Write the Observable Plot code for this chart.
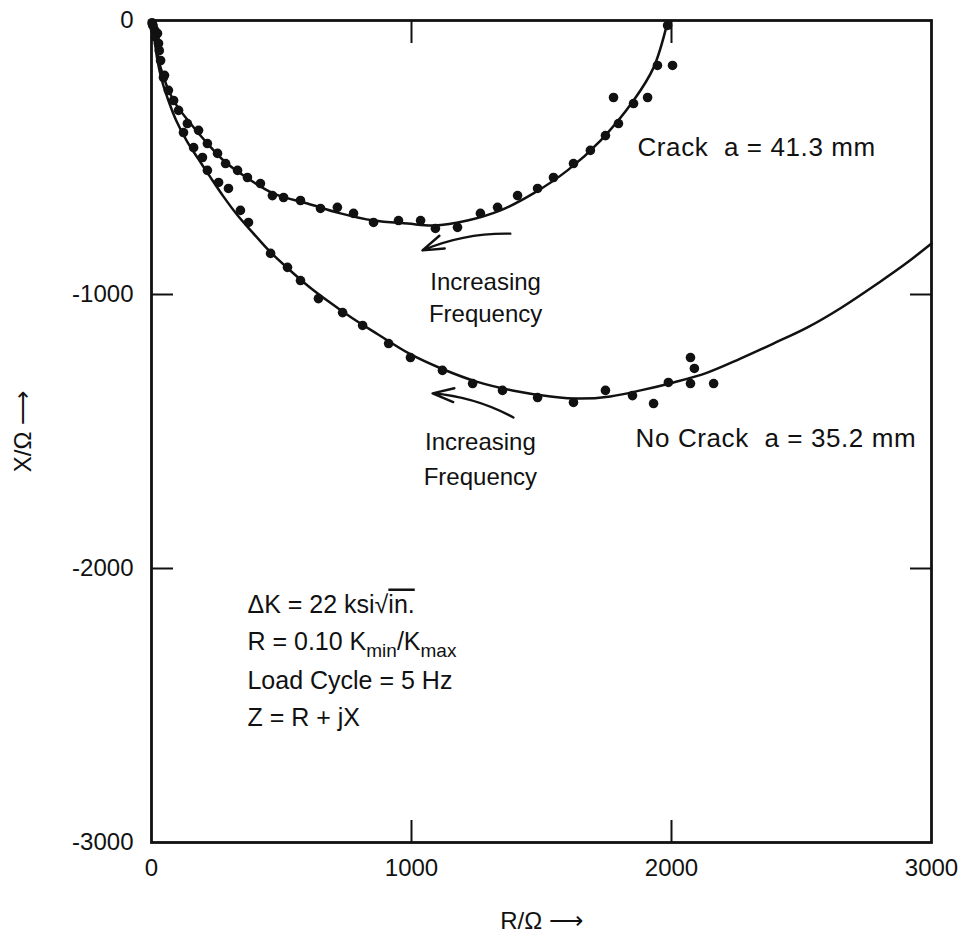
<!DOCTYPE html>
<html>
<head>
<meta charset="utf-8">
<script src="https://cdn.jsdelivr.net/npm/d3@7"></script>
<script src="https://cdn.jsdelivr.net/npm/@observablehq/plot@0.6"></script>
<style>
  html, body { margin: 0; padding: 0; background: #fff; }
  #chart svg { display: block; }
</style>
</head>
<body>
<div id="chart"></div>
<script>
// ---- Data (R in ohm, X in ohm) ----
const crackCurve = [
  [0, 0], [7, -26], [35, -172], [85, -292], [150, -376], [215, -449], [277, -511],
  [342, -558], [469, -631], [600, -668], [727, -704], [854, -730], [985, -741],
  [1085, -748], [1215, -730], [1342, -693], [1469, -631], [1600, -547],
  [1727, -438], [1854, -292], [1931, -172], [1985, -5]
];
const noCrackCurve = [
  [0, 0], [12, -73], [23, -146], [40, -219], [65, -292], [95, -365], [135, -438],
  [180, -505], [225, -570], [275, -640], [330, -710], [390, -775], [455, -843],
  [525, -905], [600, -967], [680, -1025], [770, -1085], [870, -1145],
  [990, -1215], [1119, -1272], [1250, -1318], [1388, -1350], [1535, -1372],
  [1650, -1380], [1765, -1372], [1881, -1350], [2008, -1321], [2138, -1285],
  [2265, -1234], [2392, -1179], [2523, -1120], [2650, -1050], [2800, -955],
  [2900, -888], [3000, -814]
];
const crackDots = [
  [2, -8], [6, -20], [12, -35], [23, -47], [27, -84], [35, -146], [46, -208], [65, -255],
  [85, -292], [104, -328], [138, -376], [181, -401], [215, -449], [254, -485],
  [285, -522], [331, -547], [369, -573], [419, -595], [465, -639], [508, -646],
  [573, -657], [650, -686], [715, -682], [777, -704], [854, -737], [950, -730],
  [1035, -730], [1092, -759], [1177, -755], [1265, -704], [1331, -682],
  [1408, -639], [1485, -613], [1546, -573], [1623, -522], [1688, -474],
  [1746, -420], [1796, -376], [1777, -281], [1854, -303], [1908, -281],
  [1946, -164], [2004, -164], [1985, -18]
];
const noCrackDots = [
  [4, -15], [15, -60], [30, -110], [50, -200], [123, -409], [162, -464], [196, -500], [215, -547],
  [258, -591], [296, -613], [342, -693], [373, -737], [458, -850], [523, -901],
  [573, -949], [642, -1015], [735, -1066], [812, -1113], [912, -1179],
  [996, -1230], [1119, -1277], [1235, -1325], [1350, -1350], [1485, -1376],
  [1623, -1394], [1746, -1350], [1850, -1369], [1931, -1398], [1988, -1321],
  [2073, -1230], [2088, -1270], [2073, -1325], [2162, -1325]
];
const xTicks = [0, 1000, 2000, 3000];
const yTicks = [0, -1000, -2000, -3000];
const innerXTicks = [1000, 2000];
const innerYTicks = [-1000, -2000];

// Annotations (data coordinates)
const curveLabels = [
  {R: 1869, X: -464, text: "Crack  a = 41.3 mm"},
  {R: 1862, X: -1526, text: "No Crack  a = 35.2 mm"}
];
const arrowLabels = [
  {R: 1285, X: -956, text: "Increasing"},
  {R: 1285, X: -1073, text: "Frequency"},
  {R: 1265, X: -1540, text: "Increasing"},
  {R: 1265, X: -1668, text: "Frequency"}
];
const freqArrows = [
  {R1: 1380, X1: -778, R2: 1042, X2: -839},
  {R1: 1392, X1: -1449, R2: 1081, X2: -1361}
];
const conditions = [
  {R: 369, X: -2135, text: "ΔK = 22 ksi√in."},
  {R: 369, X: -2270, text: "R = 0.10 Kmin/Kmax"},
  {R: 369, X: -2409, text: "Load Cycle = 5 Hz"},
  {R: 369, X: -2544, text: "Z = R + jX"}
];

const FONT = "'Liberation Sans', Arial, Helvetica, sans-serif";

const chart = Plot.plot({
  width: 972,
  height: 934,
  marginTop: 20,
  marginBottom: 92,
  marginLeft: 151,
  marginRight: 41,
  style: {fontFamily: FONT, fontSize: "24px", color: "#111", background: "#fff"},
  x: {domain: [0, 3000]},
  y: {domain: [-3000, 0]},
  marks: [
    Plot.frame({stroke: "#111", strokeWidth: 2.8}),
    // tick labels
    Plot.axisX(xTicks, {anchor: "bottom", tickSize: 0, tickPadding: 16, tickFormat: d => String(d),
      fontSize: 24, label: "R/Ω ⟶", labelAnchor: "center", labelOffset: 86, labelArrow: "none"}),
    Plot.axisY(yTicks, {anchor: "left", tickSize: 0, tickPadding: 18, tickFormat: d => String(d),
      fontSize: 24, label: "X/Ω ⟶", labelAnchor: "center", labelOffset: 138, labelArrow: "none"}),
    // inward tick marks on all four sides
    Plot.axisX(innerXTicks, {anchor: "bottom", tickSize: -22, strokeWidth: 2, tickFormat: () => "", label: null}),
    Plot.axisX(innerXTicks, {anchor: "top", tickSize: -22, strokeWidth: 2, tickFormat: () => "", label: null}),
    Plot.axisY(innerYTicks, {anchor: "left", tickSize: -22, strokeWidth: 2, tickFormat: () => "", label: null}),
    Plot.axisY(innerYTicks, {anchor: "right", tickSize: -22, strokeWidth: 2, tickFormat: () => "", label: null}),
    // fitted curves
    Plot.line(crackCurve, {x: d => d[0], y: d => d[1], stroke: "#111", strokeWidth: 2.5, curve: "catmull-rom"}),
    Plot.line(noCrackCurve, {x: d => d[0], y: d => d[1], stroke: "#111", strokeWidth: 2.5, curve: "catmull-rom"}),
    // measured points
    Plot.dot(crackDots, {x: d => d[0], y: d => d[1], r: 4.8, fill: "#111", stroke: "none"}),
    Plot.dot(noCrackDots, {x: d => d[0], y: d => d[1], r: 4.8, fill: "#111", stroke: "none"}),
    // arrows
    Plot.arrow(freqArrows, {x1: "R1", y1: "X1", x2: "R2", y2: "X2", bend: -12, stroke: "#111",
      strokeWidth: 2.4, headLength: 14, headAngle: 36}),
    // annotations
    Plot.text(curveLabels, {x: "R", y: "X", text: "text", textAnchor: "start", fontSize: 26, fill: "#111"}),
    Plot.text(arrowLabels, {x: "R", y: "X", text: "text", textAnchor: "middle", fontSize: 24, fill: "#111"}),
    Plot.text(conditions, {x: "R", y: "X", text: "text", textAnchor: "start", fontSize: 25, fill: "#111"})
  ]
});

// Rich text: overline for the square root and subscripts for K_min/K_max; letter spacing for curve labels
d3.select(chart).selectAll("text").each(function () {
  const t = d3.select(this);
  const s = this.textContent;
  if (s === "ΔK = 22 ksi√in.") {
    t.text(null);
    t.append("tspan").text("ΔK = 22 ksi√");
    t.append("tspan").style("text-decoration", "overline").text("in.");
  } else if (s === "R = 0.10 Kmin/Kmax") {
    t.text(null);
    t.append("tspan").text("R = 0.10 K");
    t.append("tspan").attr("font-size", 19).attr("dy", 7).text("min");
    t.append("tspan").attr("dy", -7).text("/K");
    t.append("tspan").attr("font-size", 19).attr("dy", 7).text("max");
  } else if (s.startsWith("Crack") || s.startsWith("No Crack")) {
    t.attr("letter-spacing", "0.6px").style("white-space", "pre");
  }
});

document.getElementById("chart").appendChild(chart);
</script>
</body>
</html>
